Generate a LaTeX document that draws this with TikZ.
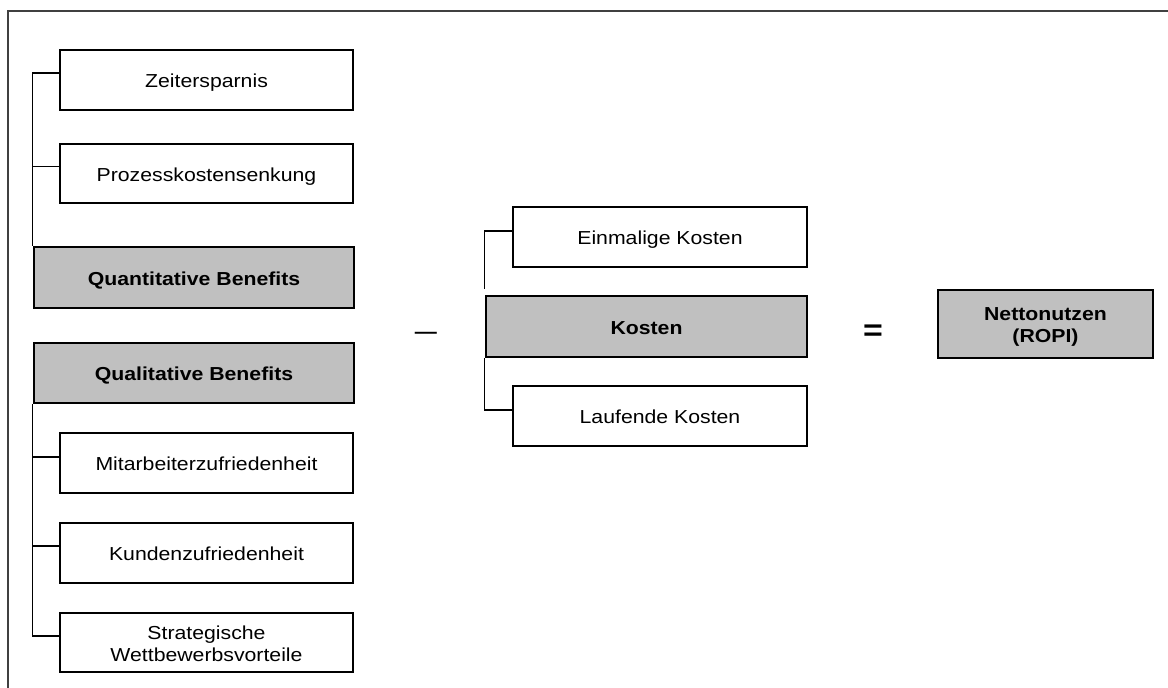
\documentclass[tikz,border=0pt]{standalone}
\usepackage{fontspec}
\setmainfont{Liberation Sans}[FakeStretch=1.13]
\definecolor{boxgray}{HTML}{C0C0C0}
\definecolor{framegray}{HTML}{404040}
\begin{document}
\begin{tikzpicture}[x=1pt,y=-1pt,
  leaf/.style={draw, line width=1.4pt, fill=white, minimum width=293pt,
    minimum height=60pt, inner sep=0pt, align=center,
    text height=15.5pt, text depth=0pt,
    font=\fontsize{18.8}{22}\selectfont},
  head/.style={leaf, line width=2.6pt, fill=boxgray,
    font=\fontsize{18.8}{22.5}\selectfont\bfseries},
  twoline/.style={text height=37pt, text depth=0pt},
  link/.style={line width=1.1pt},
  frameline/.style={draw=framegray, line width=2pt},
  symb/.style={anchor=base, inner sep=0pt}
]
\useasboundingbox (0,0) rectangle (1168,688);

% outer frame (top and left edges)
\draw[frameline] (8,688) -- (8,11) -- (1168,11);

% benefits column
\node[leaf] (zeit) at (206.5,80) {Zeitersparnis};
\node[leaf, minimum height=59pt] (proz) at (206.5,173.5) {Prozesskostensenkung};
\node[head, minimum width=320pt, minimum height=61pt] (quant) at (194,277.5) {Quantitative Benefits};
\node[head, minimum width=320pt] (qual) at (194,373) {Qualitative Benefits};
\node[leaf] (mit) at (206.5,463) {Mitarbeiterzufriedenheit};
\node[leaf] (kund) at (206.5,553) {Kundenzufriedenheit};
\node[leaf, twoline, minimum height=59pt] (strat) at (206.5,642.5) {Strategische\\Wettbewerbsvorteile};

% cost column
\node[leaf, minimum width=294pt] (einm) at (660,237) {Einmalige Kosten};
\node[head, minimum width=321pt, minimum height=61pt] (kost) at (646.5,326.5) {Kosten};
\node[leaf, minimum width=294pt] (lauf) at (660,416) {Laufende Kosten};

% result
\node[head, twoline, text height=37.5pt, minimum width=215pt, minimum height=68pt] (netto) at (1045.5,324) {Nettonutzen\\(ROPI)};

% operators
\node[symb, font=\fontsize{19.5}{22}\selectfont\bfseries] (minus) at (426,338) {—};
\node[symb, font=\fontsize{30}{30}\selectfont\bfseries] (equals) at (873,340) {=};

% tree connectors
\draw[link] ([yshift=7pt]zeit.west) -| (quant.north west);
\draw[link] ([yshift=7pt]proz.west) -- ([yshift=7pt]proz.west -| quant.west);
\draw[link] (qual.south west) |- ([yshift=6.5pt]strat.west);
\draw[link] ([yshift=6pt]mit.west) -- ([yshift=6pt]mit.west -| qual.west);
\draw[link] ([yshift=7pt]kund.west) -- ([yshift=7pt]kund.west -| qual.west);
\draw[link] ([yshift=6pt]einm.west) -| ([yshift=6pt]kost.north west);
\draw[link] (kost.south west) |- ([yshift=6pt]lauf.west);
\end{tikzpicture}
\end{document}
